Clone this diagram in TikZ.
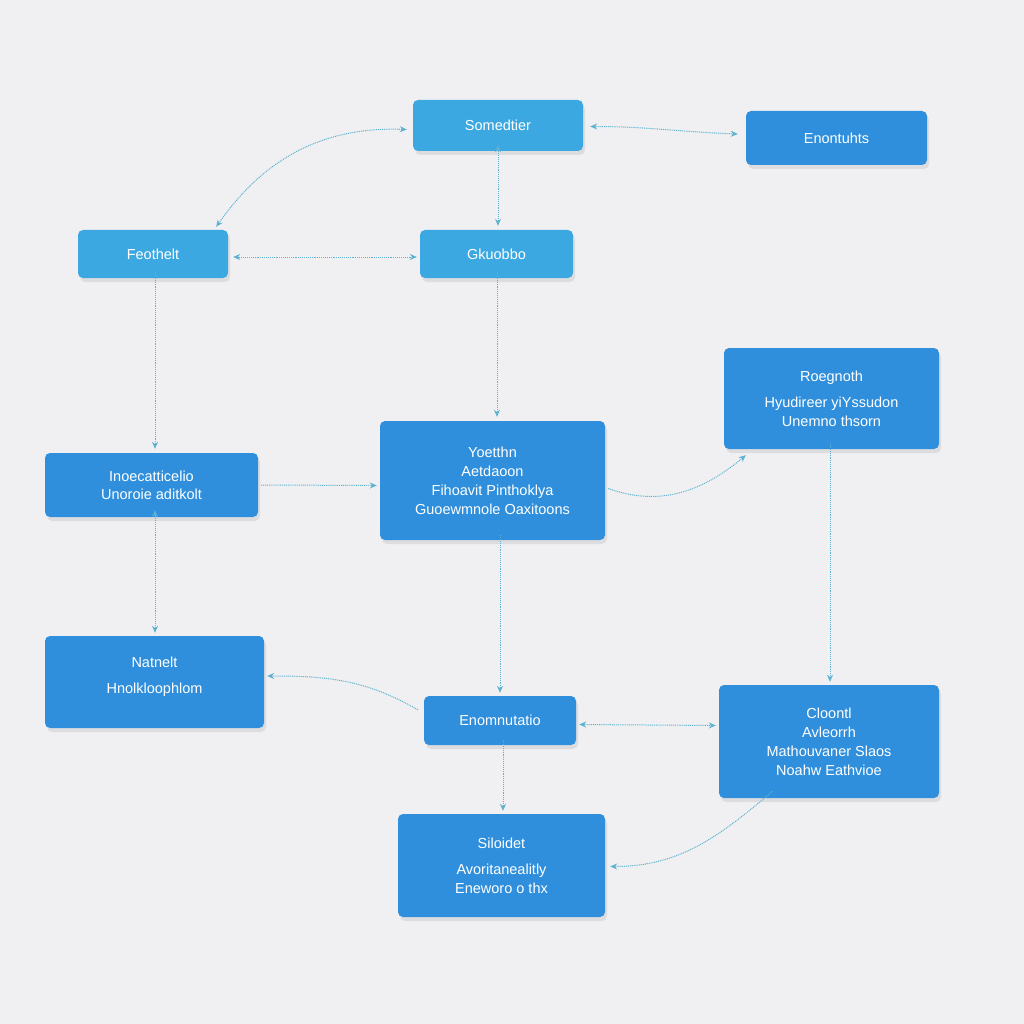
\documentclass[tikz,border=0pt]{standalone}
\usepackage{fontspec}
\setmainfont{Liberation Sans}
\usetikzlibrary{arrows.meta,shadows,calc}
\definecolor{bgc}{RGB}{240,240,242}
\definecolor{boxlight}{RGB}{60,168,226}
\definecolor{boxdark}{RGB}{47,143,220}
\definecolor{linkc}{RGB}{92,178,208}
\tikzset{
  box/.style={rounded corners=5pt, draw=none, text=white, align=center,
    font=\fontsize{14.5}{19}\selectfont, inner sep=0pt,
    drop shadow={opacity=0.16, shadow xshift=2pt, shadow yshift=-4pt}},
  lightbox/.style={box, fill=boxlight},
  darkbox/.style={box, fill=boxdark},
  link/.style={draw=linkc, line width=1pt, dash pattern=on 1pt off 0.9pt,
    -{Stealth[length=7pt,width=6pt]}},
  dlink/.style={link, {Stealth[length=7pt,width=6pt]}-{Stealth[length=7pt,width=6pt]}}
}
\begin{document}
\begin{tikzpicture}[x=1pt,y=-1pt]
\useasboundingbox (0,0) rectangle (1024,1024);
\fill[bgc] (0,0) rectangle (1024,1024);

\node[lightbox, minimum width=170, minimum height=51] (n1) at (498,125.5) {Somedtier};
\node[darkbox, minimum width=181, minimum height=54] (n2) at (836.5,138) {Enontuhts};
\node[lightbox, minimum width=150, minimum height=48] (n3) at (153,254) {Feothelt};
\node[lightbox, minimum width=153, minimum height=48] (n4) at (496.5,254) {Gkuobbo};
\node[darkbox, minimum width=215, minimum height=101] (n5) at (831.5,398.5) {Roegnoth\\[7pt]Hyudireer yiYssudon\\Unemno thsorn};
\node[darkbox, minimum width=213, minimum height=64] (n6) at (151.5,485) {Inoecatticelio\\[-1pt]Unoroie aditkolt};
\node[darkbox, minimum width=225, minimum height=119] (n7) at (492.5,480.5) {Yoetthn\\Aetdaoon\\Fihoavit Pinthoklya\\Guoewmnole Oaxitoons};
\node[darkbox, minimum width=219, minimum height=92] (n8) at (154.5,682) {Natnelt\\[7pt]Hnolkloophlom\\[-6pt]\mbox{}};
\node[darkbox, minimum width=152, minimum height=49] (n9) at (500,720.5) {Enomnutatio};
\node[darkbox, minimum width=220, minimum height=113] (n10) at (829,741.5) {Cloontl\\Avleorrh\\Mathouvaner Slaos\\Noahw Eathvioe};
\node[darkbox, minimum width=207, minimum height=103] (n11) at (501.5,865.5) {Siloidet\\[7pt]Avoritanealitly\\Eneworo o thx};

\coordinate (a1) at ($(n3.north east)+(-12,-3)$);
\coordinate (a2) at ($(n1.west)+(-6,4)$);
\draw[dlink] (a1) to[out=55,in=178] (a2);
\draw[dlink] ($(n1.east)+(7,1)$) to[out=0,in=178] ($(n2.west)+(-8,-4)$);
\draw[dlink] ($(n1.south)+(0,-6)$) -- ($(n4.north)+(1.5,-4)$);
\draw[dlink] ($(n3.east)+(5,3)$) -- ($(n4.west)+(-3,3)$);
\draw[link] ($(n3.south)+(2,-6)$) -- ($(n6.north)+(3.5,-4)$);
\draw[link] ($(n4.south)+(0.5,-6)$) -- ($(n7.north)+(4.5,-4)$);
\draw[link] ($(n6.east)+(3,0)$) -- ($(n7.west)+(-3,5)$);
\draw[link] ($(n7.east)+(3,8)$) to[out=-20,in=-140] ($(n5.south west)+(22,6)$);
\draw[dlink] ($(n6.south)+(3.5,-7)$) -- ($(n8.north)+(0.5,-3)$);
\draw[link] ($(n7.south)+(7.5,-5)$) -- ($(n9.north)+(0,-3)$);
\draw[link] ($(n9.north west)+(-6,14)$) to[out=150,in=0] ($(n8.east)+(3,-6)$);
\draw[link] ($(n5.south)+(-1.5,-6)$) -- ($(n10.north)+(1,-3)$);
\draw[dlink] ($(n9.east)+(3,4)$) -- ($(n10.west)+(-3,-16)$);
\draw[link] ($(n9.south)+(3,-5)$) -- ($(n11.north)+(1.5,-3)$);
\draw[link] ($(n10.south west)+(54,-7)$) to[out=-140,in=0] ($(n11.east)+(5,1)$);
\end{tikzpicture}
\end{document}
